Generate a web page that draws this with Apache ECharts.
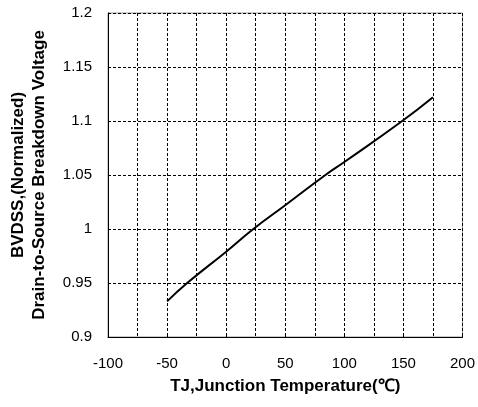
<!DOCTYPE html>
<html><head><meta charset="utf-8">
<script src="https://cdn.jsdelivr.net/npm/echarts@6/dist/echarts.min.js"></script>
<style>html,body{margin:0;padding:0;background:#fff}#c{width:478px;height:407px}</style>
</head><body><div id="c"></div>
<script>
const temperature = [-50, -33, 0, 23, 50, 84, 100, 149, 175];
const bvdss = [0.933, 0.95, 0.979, 1.0, 1.022, 1.05, 1.062, 1.1, 1.122];
const xTitle = 'TJ,Junction Temperature(\u2103)';
const yTitle = 'BVDSS,(Normalized)\nDrain-to-Source Breakdown Voltage';
const font = 'Liberation Sans, Arial, sans-serif';

const chart = echarts.init(document.getElementById('c'), null, {renderer: 'canvas'});
chart.setOption({
  animation: false,
  grid: {left: 105, right: 15, top: 13, bottom: 70, show: true, borderColor: '#999', borderWidth: 1},
  xAxis: {
    type: 'value', min: -100, max: 200, interval: 50,
    name: xTitle, nameLocation: 'middle', nameGap: 41,
    nameTextStyle: {fontFamily: font, fontWeight: 'bold', fontSize: 17, color: '#000', verticalAlign: 'top'},
    axisLine: {show: true, onZero: false, lineStyle: {color: '#000', width: 1}},
    axisTick: {show: true, inside: true, length: 4, lineStyle: {color: '#000'}},
    axisLabel: {fontFamily: font, fontSize: 15, color: '#000', margin: 19},
    splitLine: {show: true, lineStyle: {color: '#000', type: [3, 2], width: 1}},
    minorTick: {show: false, splitNumber: 2},
    minorSplitLine: {show: true, lineStyle: {color: '#000', type: [3, 2], width: 1}}
  },
  yAxis: {
    type: 'value', min: 0.9, max: 1.2, interval: 0.05,
    name: yTitle, nameLocation: 'middle', nameGap: 58, nameRotate: 90,
    nameTextStyle: {fontFamily: font, fontWeight: 'bold', fontSize: 17, color: '#000', lineHeight: 21, align: 'center'},
    axisLine: {show: true, onZero: false, lineStyle: {color: '#000', width: 1}},
    axisTick: {show: false},
    axisLabel: {fontFamily: font, fontSize: 15, color: '#000', margin: 16},
    splitLine: {show: true, lineStyle: {color: '#000', type: [3, 2], width: 1}}
  },
  series: [{
    type: 'line', data: temperature.map((t, i) => [t, bvdss[i]]),
    showSymbol: false, smooth: true,
    lineStyle: {color: '#000', width: 2}
  }]
});
</script></body></html>
